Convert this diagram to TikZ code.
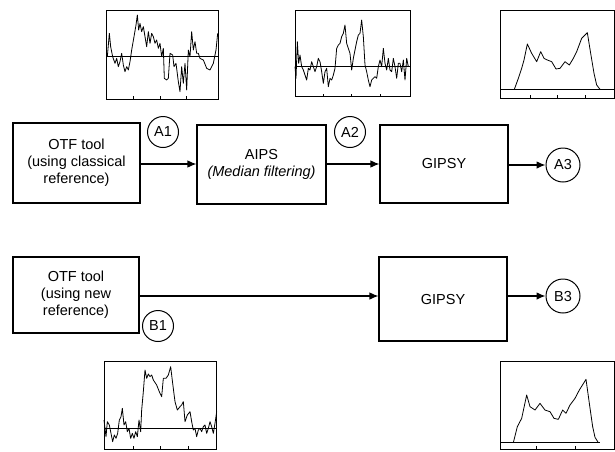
\documentclass[tikz,border=0pt]{standalone}
\usepackage{fontspec}
\setmainfont{Liberation Sans}
\usepackage{tikz}
\usetikzlibrary{arrows.meta}

\tikzset{
  procbox/.style={rectangle, draw=black, line width=1.1pt, align=center,
    font=\fontsize{14.5}{17}\selectfont},
  tagcirc/.style={circle, draw=black, line width=1pt, minimum size=31pt,
    inner sep=0pt, font=\fontsize{14.5}{16}\selectfont},
  flow/.style={line width=1.1pt, -{Latex[length=9pt,width=7.5pt]}},
  plotframe/.style={line width=0.8pt},
  trace/.style={line width=0.8pt, line join=round}
}

\begin{document}
\begin{tikzpicture}[x=1pt,y=-1pt]
\useasboundingbox (0,0) rectangle (615,451);

% processing chain A
\node[procbox, minimum width=127pt, minimum height=80pt] (otfA) at (76.5,163) {OTF tool\\(using classical\\reference)};
\node[procbox, minimum width=129pt, minimum height=79pt] (aips) at (261.5,164.5) {AIPS\\\textit{(Median filtering)}};
\node[procbox, minimum width=128pt, minimum height=78pt] (gipsyA) at (444,164) {GIPSY};
\node[tagcirc] (A1) at (163,132) {A1};
\node[tagcirc] (A2) at (350,132) {A2};
\node[tagcirc, minimum size=34pt] (A3) at (563,165) {A3};

\draw[flow] (otfA.east |- 0,164) -- (aips.west |- 0,164);
\draw[flow] (aips.east |- 0,164) -- (gipsyA.west |- 0,164);
\draw[flow] (gipsyA.east |- A3) -- (A3.west);

% processing chain B
\node[procbox, minimum width=126pt, minimum height=76pt] (otfB) at (76,295) {OTF tool\\(using new\\reference)};
\node[procbox, minimum width=128pt, minimum height=84pt] (gipsyB) at (443,299) {GIPSY};
\node[tagcirc] (B1) at (158,326) {B1};
\node[tagcirc, minimum size=34pt] (B3) at (563,296) {B3};

\draw[flow] (otfB.east |- B3) -- (gipsyB.west |- B3);
\draw[flow] (gipsyB.east |- B3) -- (B3.west);

% spectrum A1
\begin{scope}[shift={(90,0)}, scale=1/3]
\draw[plotframe] (48,30) rectangle (385,297);
\draw[plotframe] (48,168) -- (385,168);
\foreach \t in {48,130,210,290,385} \draw[plotframe] (\t,297) -- (\t,288);
\draw[trace] (52,170) -- (58,100) -- (62,140) -- (68,170) -- (75,190) -- (80,175) -- (85,200) -- (90,185) -- (95,160) -- (100,195) -- (105,215) -- (110,200) -- (115,210) -- (120,185) -- (125,150) -- (132,110) -- (138,75) -- (142,45) -- (146,90) -- (150,70) -- (155,95) -- (160,80) -- (165,110) -- (170,140) -- (175,95) -- (180,130) -- (185,100) -- (190,110) -- (195,130) -- (200,120) -- (205,145) -- (210,130) -- (215,170) -- (220,145) -- (223,235) -- (230,240) -- (235,235) -- (240,160) -- (248,165) -- (252,200) -- (258,190) -- (265,245) -- (270,275) -- (275,200) -- (280,250) -- (285,190) -- (290,270) -- (295,150) -- (300,170) -- (305,95) -- (310,150) -- (315,125) -- (320,160) -- (325,160) -- (330,175) -- (340,180) -- (350,205) -- (360,210) -- (370,190) -- (378,150) -- (383,100);
\end{scope}

% spectrum A2
\begin{scope}[shift={(280,0)}, scale=1/3]
\draw[plotframe] (45,30) rectangle (390,290);
\draw[plotframe] (45,200) -- (390,200);
\foreach \t in {45,130,215,300,390} \draw[plotframe] (\t,290) -- (\t,281);
\draw[trace] (45,200) -- (48,235) -- (52,125) -- (56,190) -- (60,165) -- (65,200) -- (70,210) -- (75,225) -- (80,240) -- (85,205) -- (90,210) -- (95,185) -- (100,200) -- (105,215) -- (110,200) -- (115,175) -- (120,185) -- (125,215) -- (130,250) -- (135,215) -- (140,205) -- (145,260) -- (150,235) -- (155,240) -- (160,225) -- (165,205) -- (170,145) -- (175,135) -- (180,130) -- (185,110) -- (190,100) -- (195,75) -- (200,130) -- (205,145) -- (210,160) -- (215,210) -- (220,175) -- (225,150) -- (230,125) -- (235,105) -- (240,100) -- (245,60) -- (250,110) -- (255,195) -- (260,215) -- (265,240) -- (270,260) -- (275,240) -- (280,235) -- (285,230) -- (290,235) -- (295,200) -- (300,180) -- (305,200) -- (310,145) -- (315,190) -- (320,210) -- (325,175) -- (330,210) -- (335,215) -- (340,175) -- (345,200) -- (350,235) -- (355,190) -- (360,190) -- (365,215) -- (370,180) -- (375,240) -- (380,175) -- (385,200);
\end{scope}

% spectrum A3
\begin{scope}[shift={(470,0)}, scale=1/3]
\draw[plotframe] (92,30) rectangle (432,295);
\draw[plotframe] (92,268) -- (432,268);
\foreach \t in {92,180,262,345,432} \draw[plotframe] (\t,295) -- (\t,286);
\draw[trace] (133,268) -- (145,235) -- (155,205) -- (162,180) -- (172,132) -- (185,160) -- (200,185) -- (212,155) -- (222,175) -- (232,180) -- (245,185) -- (258,207) -- (270,205) -- (285,185) -- (298,195) -- (310,175) -- (320,155) -- (335,115) -- (352,98) -- (362,160) -- (372,220) -- (380,255) -- (390,268);
\end{scope}

% spectrum B1
\begin{scope}[shift={(80,360)}, scale=1/3]
\draw[plotframe] (72,3) rectangle (410,268);
\draw[plotframe] (72,205) -- (410,205);
\foreach \t in {72,160,240,325,410} \draw[plotframe] (\t,268) -- (\t,259);
\draw[trace] (72,180) -- (78,230) -- (82,185) -- (88,195) -- (92,215) -- (98,245) -- (103,225) -- (108,235) -- (113,220) -- (118,180) -- (123,170) -- (127,145) -- (132,195) -- (137,185) -- (142,215) -- (147,205) -- (152,235) -- (157,220) -- (162,235) -- (167,215) -- (172,230) -- (177,180) -- (182,215) -- (185,150) -- (190,95) -- (195,30) -- (200,55) -- (205,42) -- (210,50) -- (215,45) -- (220,60) -- (230,75) -- (240,100) -- (245,110) -- (250,55) -- (258,55) -- (265,45) -- (272,20) -- (278,70) -- (285,125) -- (292,150) -- (300,140) -- (305,135) -- (310,125) -- (315,185) -- (322,165) -- (330,155) -- (335,185) -- (340,210) -- (345,205) -- (350,230) -- (355,210) -- (360,205) -- (365,215) -- (370,200) -- (375,195) -- (380,220) -- (385,205) -- (390,185) -- (395,200) -- (400,220) -- (405,190) -- (410,155);
\end{scope}

% spectrum B3
\begin{scope}[shift={(480,360)}, scale=1/3]
\draw[plotframe] (62,5) rectangle (402,268);
\draw[plotframe] (62,248) -- (360,248);
\foreach \t in {62,170,285,402} \draw[plotframe] (\t,268) -- (\t,259);
\draw[trace] (100,248) -- (112,200) -- (125,175) -- (140,105) -- (150,140) -- (165,150) -- (180,130) -- (195,150) -- (210,155) -- (222,175) -- (235,178) -- (248,150) -- (258,160) -- (270,135) -- (285,115) -- (298,90) -- (318,58) -- (328,130) -- (338,200) -- (345,232) -- (355,248);
\end{scope}
\end{tikzpicture}
\end{document}
